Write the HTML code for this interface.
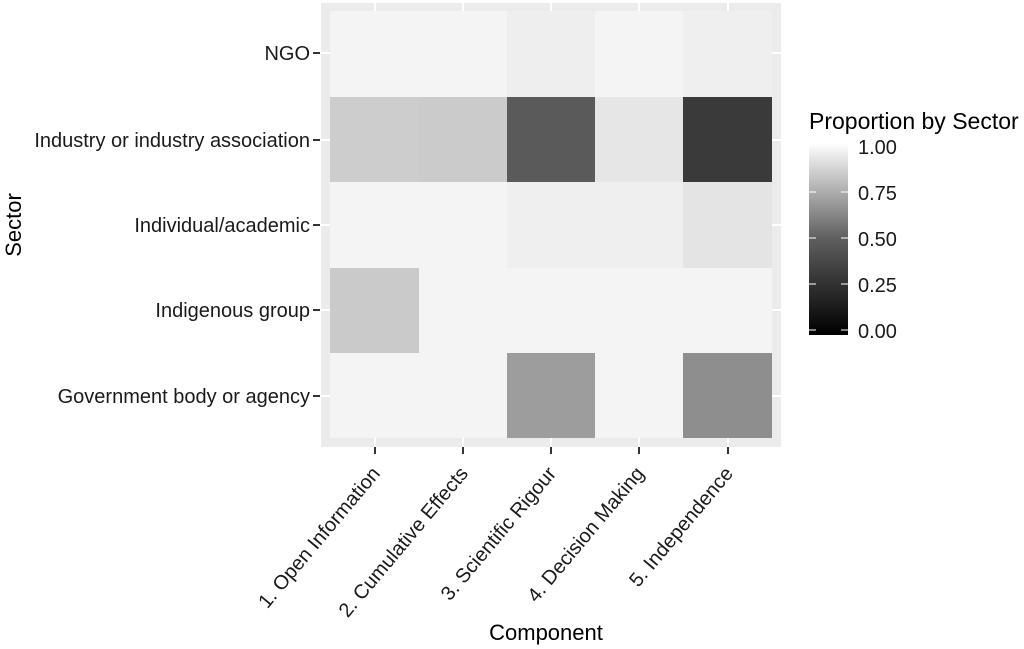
<!DOCTYPE html>
<html><head><meta charset="utf-8"><style>body{margin:0;background:#fff}svg{display:block}</style></head><body>
<svg width="1024" height="649" xmlns="http://www.w3.org/2000/svg" font-family="Liberation Sans, sans-serif">
<defs><linearGradient id="g" x1="0" y1="1" x2="0" y2="0"><stop offset="0" stop-color="#000"/><stop offset="0.5" stop-color="#5e5e5e"/><stop offset="1" stop-color="#fff"/></linearGradient></defs>
<rect x="321" y="3" width="460" height="444" fill="#ebebeb"/>
<g stroke="#fff" stroke-width="2">
<line x1="375" y1="3" x2="375" y2="447"/><line x1="463" y1="3" x2="463" y2="447"/><line x1="551" y1="3" x2="551" y2="447"/><line x1="639" y1="3" x2="639" y2="447"/><line x1="728" y1="3" x2="728" y2="447"/>
<line x1="321" y1="53" x2="781" y2="53"/><line x1="321" y1="140" x2="781" y2="140"/><line x1="321" y1="225" x2="781" y2="225"/><line x1="321" y1="310" x2="781" y2="310"/><line x1="321" y1="396" x2="781" y2="396"/>
</g>
<rect x="330" y="11" width="177" height="86" fill="#f4f4f4"/>
<rect x="507" y="11" width="88" height="86" fill="#eeeeee"/>
<rect x="595" y="11" width="88" height="86" fill="#f4f4f4"/>
<rect x="683" y="11" width="89" height="86" fill="#efefef"/>
<rect x="330" y="97" width="89" height="85" fill="#cdcdcd"/>
<rect x="419" y="97" width="88" height="85" fill="#cbcbcb"/>
<rect x="507" y="97" width="88" height="85" fill="#5a5a5a"/>
<rect x="595" y="97" width="88" height="85" fill="#e6e6e6"/>
<rect x="683" y="97" width="89" height="85" fill="#3a3a3a"/>
<rect x="330" y="182" width="177" height="86" fill="#f4f4f4"/>
<rect x="507" y="182" width="176" height="86" fill="#efefef"/>
<rect x="683" y="182" width="89" height="86" fill="#e4e4e4"/>
<rect x="330" y="268" width="89" height="85" fill="#cacaca"/>
<rect x="419" y="268" width="353" height="85" fill="#f4f4f4"/>
<rect x="330" y="353" width="177" height="85" fill="#f4f4f4"/>
<rect x="507" y="353" width="88" height="85" fill="#9d9d9d"/>
<rect x="595" y="353" width="88" height="85" fill="#f4f4f4"/>
<rect x="683" y="353" width="89" height="85" fill="#8e8e8e"/>
<g stroke="#333" stroke-width="2">
<line x1="313" y1="53" x2="320" y2="53"/><line x1="313" y1="140" x2="320" y2="140"/><line x1="313" y1="225" x2="320" y2="225"/><line x1="313" y1="310" x2="320" y2="310"/><line x1="313" y1="396" x2="320" y2="396"/>
<line x1="375" y1="447" x2="375" y2="454"/><line x1="463" y1="447" x2="463" y2="454"/><line x1="551" y1="447" x2="551" y2="454"/><line x1="639" y1="447" x2="639" y2="454"/><line x1="728" y1="447" x2="728" y2="454"/>
</g>
<g font-size="20" fill="#1a1a1a" text-anchor="end">
<text x="310" y="60">NGO</text>
<text x="310" y="147">Industry or industry association</text>
<text x="310" y="232">Individual/academic</text>
<text x="310" y="317">Indigenous group</text>
<text x="310" y="403">Government body or agency</text>
<text transform="translate(381,474) rotate(-50)">1. Open Information</text>
<text transform="translate(469,474) rotate(-50)">2. Cumulative Effects</text>
<text transform="translate(557,474) rotate(-50)">3. Scientific Rigour</text>
<text transform="translate(645,474) rotate(-50)">4. Decision Making</text>
<text transform="translate(734,474) rotate(-50)">5. Independence</text>
</g>
<text x="546" y="640" font-size="22" text-anchor="middle" fill="#000">Component</text>
<text transform="translate(21,225) rotate(-90)" font-size="22" text-anchor="middle" fill="#000">Sector</text>
<text x="809" y="129" font-size="23" fill="#000">Proportion by Sector</text>
<rect x="809" y="143" width="39" height="192" fill="url(#g)"/>
<g stroke="#fff" stroke-width="1">
<line x1="809" y1="192" x2="816" y2="192"/><line x1="841" y1="192" x2="848" y2="192"/>
<line x1="809" y1="238" x2="816" y2="238"/><line x1="841" y1="238" x2="848" y2="238"/>
<line x1="809" y1="284" x2="816" y2="284"/><line x1="841" y1="284" x2="848" y2="284"/>
<line x1="809" y1="330" x2="816" y2="330"/><line x1="841" y1="330" x2="848" y2="330"/>
</g>
<g font-size="20" fill="#1a1a1a">
<text x="858" y="154">1.00</text>
<text x="858" y="200">0.75</text>
<text x="858" y="246">0.50</text>
<text x="858" y="292">0.25</text>
<text x="858" y="338">0.00</text>
</g>
</svg>
</body></html>
